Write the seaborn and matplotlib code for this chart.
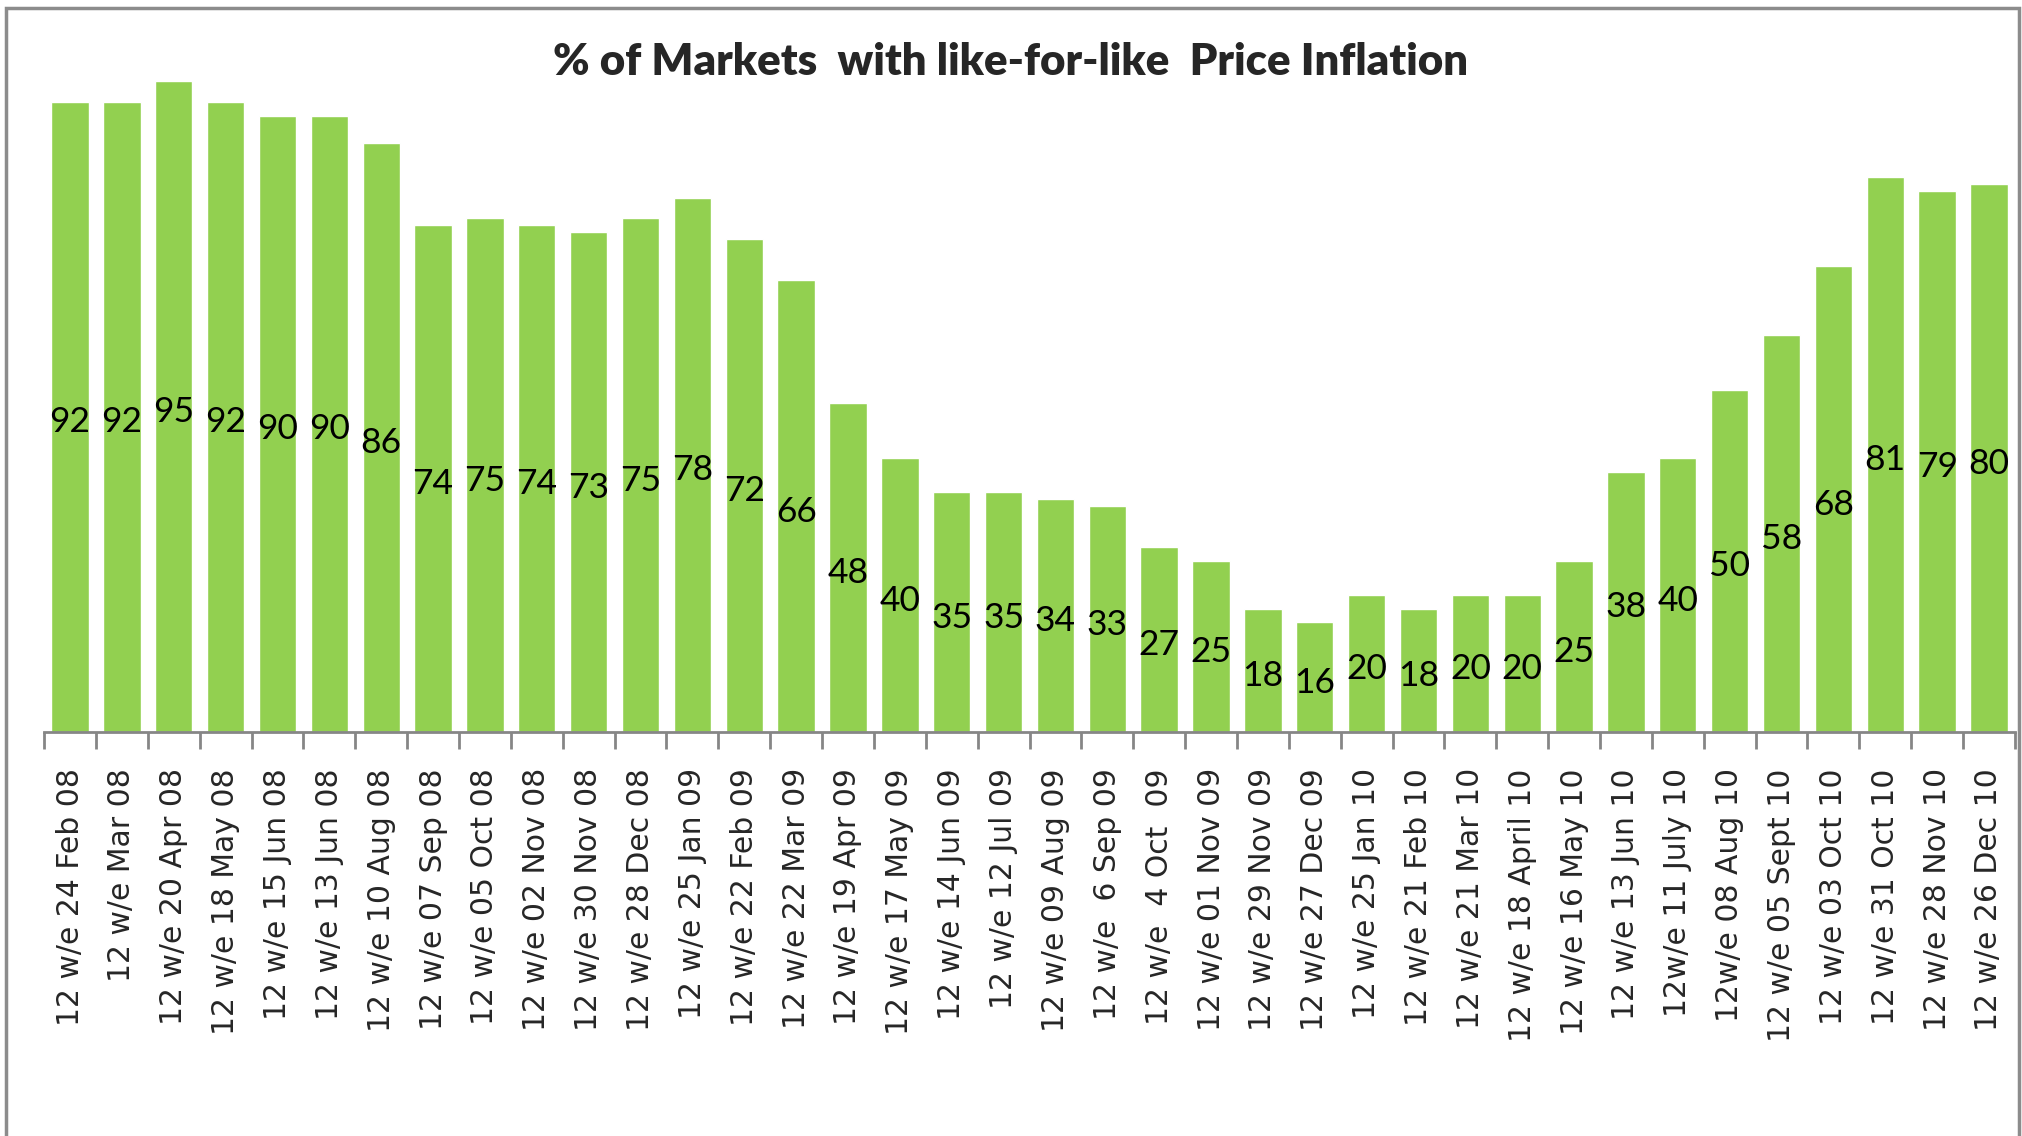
import matplotlib
matplotlib.use("Agg")
import matplotlib.pyplot as plt
import seaborn as sns
import numpy as np
import pandas as pd
from matplotlib.patches import Rectangle

# données
periods = [
    "12 w/e 24 Feb 08", "12 w/e Mar 08", "12 w/e 20 Apr 08", "12 w/e 18 May 08",
    "12 w/e 15 Jun 08", "12 w/e 13 Jun 08", "12 w/e 10 Aug 08", "12 w/e 07 Sep 08",
    "12 w/e 05 Oct 08", "12 w/e 02 Nov 08", "12 w/e 30 Nov 08", "12 w/e 28 Dec 08",
    "12 w/e 25 Jan 09", "12 w/e 22 Feb 09", "12 w/e 22 Mar 09", "12 w/e 19 Apr 09",
    "12 w/e 17 May 09", "12 w/e 14 Jun 09", "12 w/e 12 Jul 09", "12 w/e 09 Aug 09",
    "12 w/e  6 Sep 09", "12 w/e  4 Oct  09", "12 w/e 01 Nov 09", "12 w/e 29 Nov 09",
    "12 w/e 27 Dec 09", "12 w/e 25 Jan 10", "12 w/e 21 Feb 10", "12 w/e 21 Mar 10",
    "12 w/e 18 April 10", "12 w/e 16 May 10", "12 w/e 13 Jun 10", "12w/e 11 July 10",
    "12w/e 08 Aug 10", "12 w/e 05 Sept 10", "12 w/e 03 Oct 10", "12 w/e 31 Oct 10",
    "12 w/e 28 Nov 10", "12 w/e 26 Dec 10",
]
pct_markets = [92, 92, 95, 92, 90, 90, 86, 74, 75, 74, 73, 75, 78, 72, 66, 48, 40,
               35, 35, 34, 33, 27, 25, 18, 16, 20, 18, 20, 20, 25, 38, 40, 50, 58,
               68, 81, 79, 80]
title = "% of Markets  with like-for-like  Price Inflation"

df = pd.DataFrame({"period": periods, "pct": pct_markets})

sns.set_style("white")
plt.rcParams['font.family'] = ['DejaVu Sans']

fig = plt.figure(figsize=(20.22, 11.36), dpi=100)
ax = fig.add_axes([0.0218, 0.3556, 0.9747, 0.603])

sns.barplot(data=df, x="period", y="pct", color="#92D050", saturation=1,
            width=0.72, ax=ax)

labels = ax.bar_label(ax.containers[0], label_type="center", fontsize=25.5,
                      family="Lato", color="black")
for t in labels:
    t.xyann = (0, -4)

ax.set_ylim(0, 100)
ax.set_xlim(-0.5, len(periods) - 0.5)
ax.set_xlabel("")
ax.set_ylabel("")
ax.set_yticks([])

# graduations entre les barres, comme dans Excel
ax.set_xticks(np.arange(len(periods) + 1) - 0.5, minor=True)
ax.tick_params(axis="x", which="minor", length=12, width=2, color="#868686",
               direction="out", bottom=True)
ax.tick_params(axis="x", which="major", length=0, pad=26)
ax.set_xticks(range(len(periods)))
ax.set_xticklabels(periods, rotation=90, fontsize=21.5, va="top", ha="center")

for side in ["left", "right", "top"]:
    ax.spines[side].set_visible(False)
ax.spines["bottom"].set_color("#868686")
ax.spines["bottom"].set_linewidth(2)

fig.text(0.5, 0.945, title, ha="center", va="center", fontsize=31.5,
         fontweight="heavy", family="Lato")

# cadre gris autour du graphique
fig.patches.append(Rectangle((0.0032, -0.1), 0.9951, 1.093, transform=fig.transFigure,
                             fill=False, edgecolor="#8c8c8c", linewidth=2.5))

plt.savefig("out.png", dpi=100)
